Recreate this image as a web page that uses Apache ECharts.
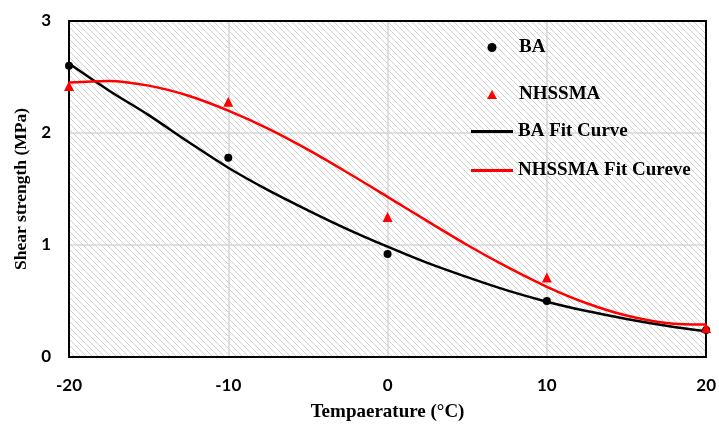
<!DOCTYPE html>
<html>
<head>
<meta charset="utf-8">
<script src="https://cdn.jsdelivr.net/npm/echarts@6/dist/echarts.min.js"></script>
<style>html,body{margin:0;padding:0;background:#fff;}#c{width:719px;height:428px;}</style>
</head>
<body>
<div id="c"></div>
<script>
// Measured data
var temps = [-20, -10, 0, 10, 20];
var baValues = [2.60, 1.78, 0.92, 0.50, 0.24];
var nhssmaValues = [2.42, 2.28, 1.25, 0.71, 0.26];
// Fit curves
var fitTemps = [-20, -17.5, -15, -12.5, -10, -7.5, -5, -2.5, 0, 2.5, 5, 7.5, 10, 12.5, 15, 17.5, 20];
var baFit = [2.62, 2.38, 2.16, 1.92, 1.69, 1.49, 1.31, 1.14, 0.985, 0.84, 0.713, 0.595, 0.494, 0.41, 0.34, 0.28, 0.229];
var nhssmaFit = [2.45, 2.465, 2.423, 2.333, 2.20, 2.039, 1.851, 1.645, 1.43, 1.213, 1.00, 0.804, 0.627, 0.48, 0.37, 0.304, 0.29];
var xTicks = [-20, -10, 0, 10, 20];
var yTicks = [0, 1, 2, 3];

function pairs(xs, ys) { return xs.map(function (x, i) { return [x, ys[i]]; }); }

// hatch pattern
var pc = document.createElement('canvas');
pc.width = 6; pc.height = 6;
var g = pc.getContext('2d');
g.fillStyle = '#ffffff'; g.fillRect(0, 0, 6, 6);
g.strokeStyle = '#d2d2d2'; g.lineWidth = 1;
g.beginPath();
g.moveTo(-1, -1); g.lineTo(7, 7);
g.moveTo(-1, 5); g.lineTo(1, 7);
g.moveTo(5, -1); g.lineTo(7, 1);
g.stroke();

var serif = '"Liberation Serif", "DejaVu Serif", serif';
var sans = 'Lato, "Liberation Sans", sans-serif';
var legendText = {fontFamily: serif, fontWeight: 'bold', fontSize: 19, color: '#000', lineHeight: 16};
var frameAxisLine = {show: true, onZero: false, lineStyle: {color: '#000', width: 2}};

var chart = echarts.init(document.getElementById('c'), null, {renderer: 'canvas'});
chart.setOption({
  animation: false,
  backgroundColor: '#ffffff',
  grid: {
    left: 69, right: 11, top: 21, bottom: 71,
    show: true,
    backgroundColor: {image: pc, repeat: 'repeat'},
    borderColor: '#000', borderWidth: 0
  },
  legend: [{
    orient: 'vertical', left: 487, top: 38, itemGap: 28, padding: 0,
    itemWidth: 10, itemHeight: 9,
    data: [{name: 'BA', icon: 'circle'}, {name: 'NHSSMA', icon: 'triangle'}],
    textStyle: {fontFamily: serif, fontWeight: 'bold', fontSize: 19, color: '#000', lineHeight: 16, padding: [0, 0, 0, 17]}
  }, {
    orient: 'vertical', left: 471, top: 122, itemGap: 20, padding: 0,
    itemWidth: 42, itemHeight: 3,
    data: [{name: 'BA Fit Curve', icon: 'rect'}, {name: 'NHSSMA Fit Cureve', icon: 'rect'}],
    textStyle: legendText
  }],
  xAxis: [{
    type: 'value', min: -20, max: 20, interval: 10,
    name: 'Tempaerature (°C)', nameLocation: 'middle', nameGap: 46,
    nameTextStyle: {fontFamily: serif, fontWeight: 'bold', fontSize: 19, color: '#000'},
    axisLine: frameAxisLine,
    axisTick: {show: false},
    axisLabel: {margin: 20, fontFamily: sans, fontWeight: 'bold', fontSize: 17, color: '#000',
      formatter: function (v) { return xTicks.indexOf(v) >= 0 ? String(v) : ''; }},
    splitLine: {show: true, lineStyle: {color: '#d6d6d6', width: 1.5}}
  }, {
    type: 'value', min: -20, max: 20, interval: 10, position: 'top',
    axisLine: frameAxisLine, axisTick: {show: false}, axisLabel: {show: false}, splitLine: {show: false}
  }],
  yAxis: [{
    type: 'value', min: 0, max: 3, interval: 1,
    name: 'Shear strength (MPa)', nameLocation: 'middle', nameGap: 31,
    nameTextStyle: {fontFamily: serif, fontWeight: 'bold', fontSize: 17.5, color: '#000'},
    axisLine: frameAxisLine,
    axisTick: {show: false},
    axisLabel: {margin: 18, fontFamily: sans, fontWeight: 'bold', fontSize: 17, color: '#000',
      formatter: function (v) { return yTicks.indexOf(v) >= 0 ? String(v) : ''; }},
    splitLine: {show: true, lineStyle: {color: '#d6d6d6', width: 1.5}}
  }, {
    type: 'value', min: 0, max: 3, interval: 1, position: 'right',
    axisLine: frameAxisLine, axisTick: {show: false}, axisLabel: {show: false}, splitLine: {show: false}
  }],
  series: [{
    name: 'BA', type: 'scatter', symbol: 'circle', symbolSize: 8,
    itemStyle: {color: '#000', opacity: 1}, z: 3,
    data: pairs(temps, baValues)
  }, {
    name: 'NHSSMA', type: 'scatter', symbol: 'triangle', symbolSize: 10,
    itemStyle: {color: '#ff0000', opacity: 1}, z: 3,
    data: pairs(temps, nhssmaValues)
  }, {
    name: 'BA Fit Curve', type: 'line', symbol: 'none', smooth: 0.35,
    lineStyle: {color: '#000', width: 2.5}, itemStyle: {color: '#000'}, z: 2,
    data: pairs(fitTemps, baFit)
  }, {
    name: 'NHSSMA Fit Cureve', type: 'line', symbol: 'none', smooth: 0.35,
    lineStyle: {color: '#ff0000', width: 2.5}, itemStyle: {color: '#ff0000'}, z: 2,
    data: pairs(fitTemps, nhssmaFit)
  }]
});
</script>
</body>
</html>
